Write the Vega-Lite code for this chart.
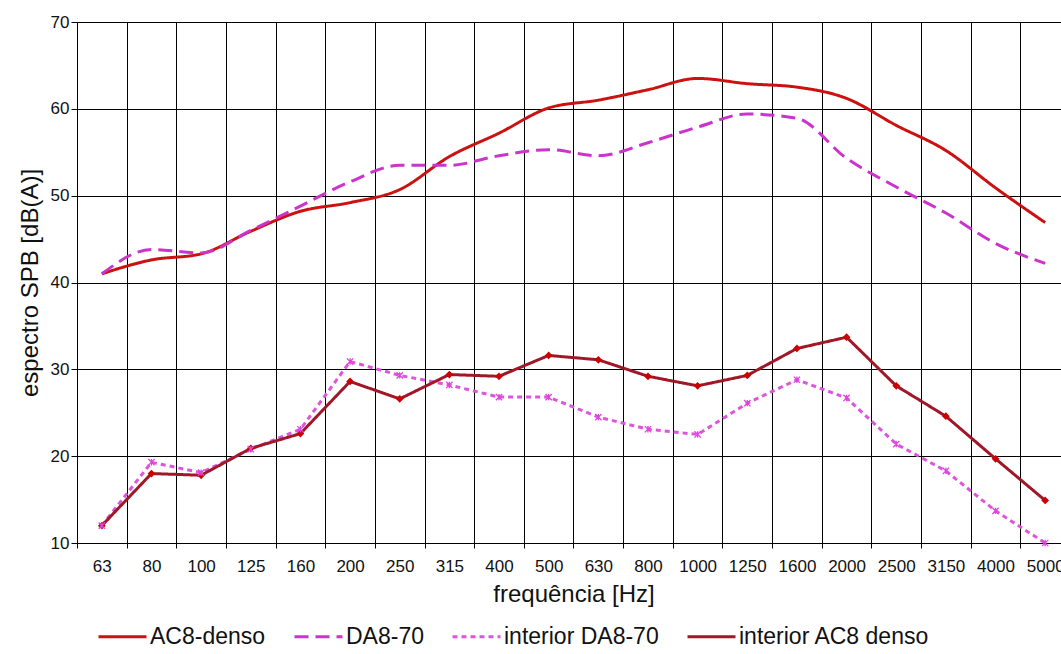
{
  "$schema": "https://vega.github.io/schema/vega-lite/v6.json",
  "width": 984,
  "height": 521,
  "autosize": {"type": "none"},
  "padding": {"left": 77, "top": 22, "right": 0, "bottom": 111},
  "background": "white",
  "config": {"view": {"stroke": null}, "font": "Liberation Sans"},
  "data": {"values": [
    {"f": "63", "AC8-denso": 41.0, "DA8-70": 41.0, "interior DA8-70": 12.0, "interior AC8 denso": 12.0},
    {"f": "80", "AC8-denso": 42.6, "DA8-70": 43.8, "interior DA8-70": 19.3, "interior AC8 denso": 18.0},
    {"f": "100", "AC8-denso": 43.3, "DA8-70": 43.4, "interior DA8-70": 18.1, "interior AC8 denso": 17.8},
    {"f": "125", "AC8-denso": 45.9, "DA8-70": 46.0, "interior DA8-70": 20.8, "interior AC8 denso": 20.9},
    {"f": "160", "AC8-denso": 48.2, "DA8-70": 48.8, "interior DA8-70": 23.1, "interior AC8 denso": 22.6},
    {"f": "200", "AC8-denso": 49.2, "DA8-70": 51.6, "interior DA8-70": 30.9, "interior AC8 denso": 28.6},
    {"f": "250", "AC8-denso": 50.7, "DA8-70": 53.5, "interior DA8-70": 29.3, "interior AC8 denso": 26.6},
    {"f": "315", "AC8-denso": 54.5, "DA8-70": 53.5, "interior DA8-70": 28.2, "interior AC8 denso": 29.4},
    {"f": "400", "AC8-denso": 57.2, "DA8-70": 54.6, "interior DA8-70": 26.8, "interior AC8 denso": 29.2},
    {"f": "500", "AC8-denso": 60.1, "DA8-70": 55.3, "interior DA8-70": 26.8, "interior AC8 denso": 31.6},
    {"f": "630", "AC8-denso": 61.0, "DA8-70": 54.6, "interior DA8-70": 24.5, "interior AC8 denso": 31.1},
    {"f": "800", "AC8-denso": 62.2, "DA8-70": 56.1, "interior DA8-70": 23.1, "interior AC8 denso": 29.2},
    {"f": "1000", "AC8-denso": 63.5, "DA8-70": 57.9, "interior DA8-70": 22.5, "interior AC8 denso": 28.1},
    {"f": "1250", "AC8-denso": 62.9, "DA8-70": 59.4, "interior DA8-70": 26.1, "interior AC8 denso": 29.3},
    {"f": "1600", "AC8-denso": 62.5, "DA8-70": 58.9, "interior DA8-70": 28.8, "interior AC8 denso": 32.4},
    {"f": "2000", "AC8-denso": 61.2, "DA8-70": 54.3, "interior DA8-70": 26.7, "interior AC8 denso": 33.7},
    {"f": "2500", "AC8-denso": 58.1, "DA8-70": 51.0, "interior DA8-70": 21.4, "interior AC8 denso": 28.1},
    {"f": "3150", "AC8-denso": 55.2, "DA8-70": 48.0, "interior DA8-70": 18.3, "interior AC8 denso": 24.6},
    {"f": "4000", "AC8-denso": 50.9, "DA8-70": 44.5, "interior DA8-70": 13.7, "interior AC8 denso": 19.7},
    {"f": "5000", "AC8-denso": 46.9, "DA8-70": 42.2, "interior DA8-70": 10.0, "interior AC8 denso": 14.9}
  ]},
  "transform": [
    {"fold": ["AC8-denso", "DA8-70", "interior DA8-70", "interior AC8 denso"], "as": ["serie", "valor"]}
  ],
  "encoding": {
    "x": {
      "field": "f", "type": "ordinal", "sort": null,
      "scale": {"range": [0, 993], "paddingInner": 0, "paddingOuter": 0},
      "axis": {
        "tickBand": "extent", "grid": true, "gridColor": "#000000", "gridOpacity": 1, "gridWidth": 1,
        "domainColor": "#000000", "tickColor": "#000000", "tickSize": 5,
        "labelAngle": 0, "labelFontSize": 17, "labelColor": "#111111", "labelPadding": 10, "labelOverlap": false,
        "title": "frequência [Hz]", "titleFontSize": 24, "titleFontWeight": "normal", "titleColor": "#111111", "titlePadding": 8
      }
    },
    "y": {
      "field": "valor", "type": "quantitative",
      "scale": {"domain": [10, 70], "nice": false, "zero": false},
      "axis": {
        "values": [10, 20, 30, 40, 50, 60, 70], "grid": true, "gridColor": "#000000", "gridOpacity": 1, "gridWidth": 1,
        "domainColor": "#000000", "tickColor": "#000000", "tickSize": 6,
        "labelFontSize": 17, "labelColor": "#111111", "labelPadding": 2,
        "title": "espectro SPB [dB(A)]", "titleFontSize": 24, "titleFontWeight": "normal", "titleColor": "#111111", "titlePadding": 8
      }
    }
  },
  "layer": [
    {
      "transform": [{"filter": "datum.serie === 'AC8-denso' || datum.serie === 'DA8-70'"}],
      "mark": {"type": "line", "interpolate": "monotone"},
      "encoding": {
        "color": {"field": "serie", "type": "nominal",
          "scale": {"domain": ["AC8-denso", "DA8-70", "interior DA8-70", "interior AC8 denso"], "range": ["#cc1111", "#cc33cc", "#dd55dd", "#a01828"]},
          "legend": {"orient": "none", "legendX": 20, "legendY": 589, "direction": "horizontal", "title": null,
            "symbolType": "stroke", "symbolSize": 2304, "labelFontSize": 23, "labelColor": "#111111", "labelOffset": 2,
            "labelLimit": 0, "columnPadding": 22}},
        "strokeDash": {"field": "serie", "type": "nominal",
          "scale": {"domain": ["AC8-denso", "DA8-70", "interior DA8-70", "interior AC8 denso"], "range": [[1, 0], [14, 7], [5, 4], [1, 0]]}},
        "strokeWidth": {"field": "serie", "type": "nominal",
          "scale": {"domain": ["AC8-denso", "DA8-70", "interior DA8-70", "interior AC8 denso"], "range": [3, 3, 1.3, 1.3]}}
      }
    },
    {
      "transform": [{"filter": "datum.serie === 'interior DA8-70' || datum.serie === 'interior AC8 denso'"}],
      "mark": {"type": "line"},
      "encoding": {
        "color": {"field": "serie", "type": "nominal"},
        "strokeDash": {"field": "serie", "type": "nominal"},
        "strokeWidth": {"field": "serie", "type": "nominal"}
      }
    },
    {
      "transform": [{"filter": "datum.serie === 'interior AC8 denso'"}],
      "mark": {"type": "point", "shape": "diamond", "filled": true, "color": "#cc0000", "size": 60, "opacity": 1}
    },
    {
      "transform": [{"filter": "datum.serie === 'interior DA8-70'"}],
      "mark": {"type": "point", "shape": "M-1,-1L1,1M-1,1L1,-1M0,-1L0,1", "filled": false, "color": "#dd44dd", "strokeWidth": 1.3, "size": 40, "opacity": 1}
    }
  ]
}
